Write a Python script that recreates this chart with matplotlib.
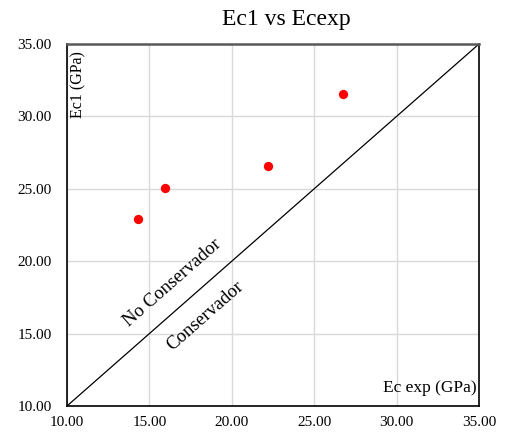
import matplotlib.pyplot as plt
import numpy as np

# Datos
ec_exp = [14.31, 15.95, 22.20, 26.75]
ec1 = [22.91, 25.06, 26.57, 31.55]
ticks = [10, 15, 20, 25, 30, 35]
linea = [10, 35]

plt.rcParams['font.family'] = ['Liberation Serif', 'DejaVu Serif']

fig = plt.figure(figsize=(5.06, 4.33), dpi=100)
ax = fig.add_axes([0.1324, 0.0624, 0.8142, 0.836])

ax.plot(linea, linea, color='black', lw=0.9, zorder=2)
ax.scatter(ec_exp, ec1, color='#ff0000', s=45, zorder=3, linewidths=0)

ax.set_xlim(10, 35)
ax.set_ylim(10, 35)
ax.set_xticks(ticks)
ax.set_yticks(ticks)
ax.set_xticklabels([f"{t:.2f}" for t in ticks], fontsize=11)
ax.set_yticklabels([f"{t:.2f}" for t in ticks], fontsize=11)
ax.tick_params(axis='y', length=0, pad=11)
ax.tick_params(axis='x', length=0, pad=7.5)
ax.grid(color='#d9d9d9', lw=1)
ax.set_axisbelow(True)
for s in ['left', 'right', 'bottom']:
    ax.spines[s].set_color('black')
    ax.spines[s].set_linewidth(1.2)
ax.spines['top'].set_color('#595959')
ax.spines['top'].set_linewidth(1.8)

fig.text(0.566, 0.956, "Ec1 vs Ecexp", ha='center', va='center', fontsize=17)
ax.text(0.028, 0.98, "Ec1 (GPa)", transform=ax.transAxes, rotation=90,
        ha='center', va='top', fontsize=11.5)
ax.text(0.995, 0.05, "Ec exp (GPa)", transform=ax.transAxes,
        ha='right', va='center', fontsize=12.5)

ang = np.degrees(np.arctan(0.836 * 433 / (0.8142 * 506)))
ax.text(16.43, 18.5, "No Conservador", rotation=ang, ha='center', va='center',
        fontsize=13.5, rotation_mode='anchor')
ax.text(18.4, 16.2, "Conservador", rotation=ang, ha='center', va='center',
        fontsize=13.5, rotation_mode='anchor')

fig.savefig('out.png', dpi=100)
